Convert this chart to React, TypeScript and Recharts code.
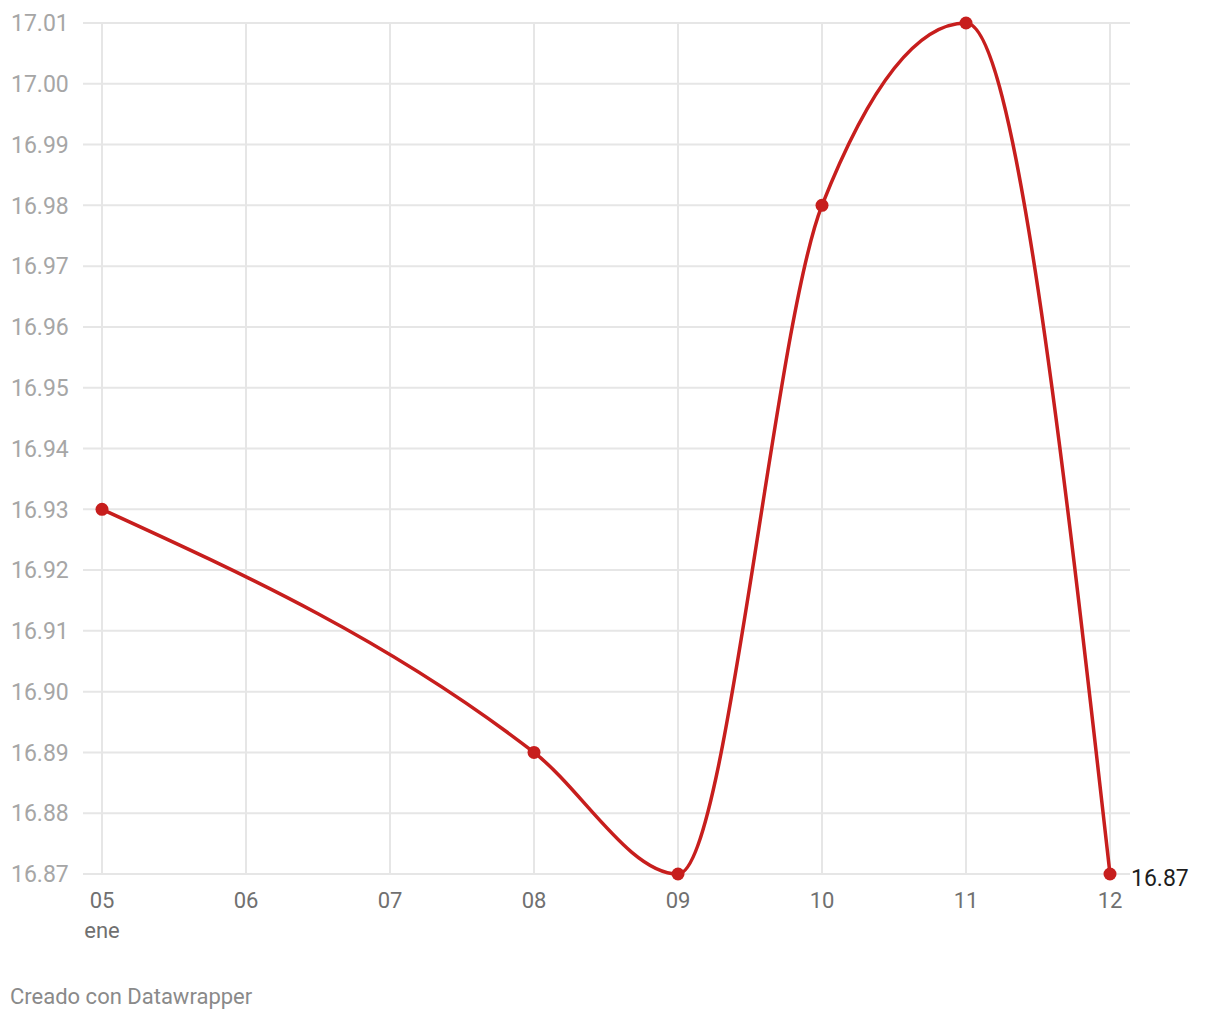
import { LineChart, Line, XAxis, YAxis, CartesianGrid, ReferenceLine } from 'recharts';

const days = [5, 8, 9, 10, 11, 12];
const values = [16.93, 16.89, 16.87, 16.98, 17.01, 16.87];
const xTicks = [5, 6, 7, 8, 9, 10, 11, 12];
const yTicks = [16.87, 16.88, 16.89, 16.9, 16.91, 16.92, 16.93, 16.94, 16.95, 16.96, 16.97, 16.98, 16.99, 17.0, 17.01];
const monthLabel = 'ene';

const data = days.map((d, i) => ({ day: d, value: values[i] }));

const RED = '#c71e1d';
const GRID = '#e6e6e6';

const YTick = (props: any) => {
  const { y, payload } = props;
  return (
    <text x={11} y={y} dy="0.36em" textAnchor="start" fontSize={23} fill="#a6a6a6" fontFamily="Roboto">
      {Number(payload.value).toFixed(2)}
    </text>
  );
};

const XTick = (props: any) => {
  const { x, y, payload } = props;
  const v = payload.value;
  return (
    <g>
      <text x={x} y={y + 18} dy="0.36em" textAnchor="middle" fontSize={22} fill="#707070" fontFamily="Roboto">
        {String(v).padStart(2, '0')}
      </text>
      {v === days[0] && (
        <text x={x} y={y + 48} dy="0.36em" textAnchor="middle" fontSize={22} fill="#707070" fontFamily="Roboto">
          {monthLabel}
        </text>
      )}
    </g>
  );
};

const EndLabel = (props: any) => {
  const { x, y, index, value } = props;
  if (index !== data.length - 1) return null;
  return (
    <text x={x + 21} y={y + 4} dy="0.36em" textAnchor="start" fontSize={23} fill="#1d1d1d" fontFamily="Roboto">
      {Number(value).toFixed(2)}
    </text>
  );
};

export default function App() {
  return (
    <div style={{ position: 'absolute', left: 0, top: 0, width: 1220, height: 1020, background: '#fff', fontFamily: 'Roboto' }}>
      <LineChart width={1220} height={1020} data={data} margin={{ top: 23, right: 90, bottom: 86, left: 0 }}>
        <CartesianGrid stroke={GRID} strokeWidth={2} vertical={false} />
        {xTicks.map((t) => (
          <ReferenceLine key={t} x={t} stroke={GRID} strokeWidth={2} />
        ))}
        <XAxis
          dataKey="day"
          type="number"
          domain={[5, 12]}
          ticks={xTicks}
          padding={{ left: 19, right: 20 }}
          axisLine={false}
          tickLine={false}
          height={60}
          tick={<XTick />}
          interval={0}
        />
        <YAxis
          type="number"
          domain={[16.87, 17.01]}
          ticks={yTicks}
          width={83}
          axisLine={false}
          tickLine={false}
          tick={<YTick />}
          interval={0}
          allowDecimals
        />
        <Line
          type="monotoneX"
          dataKey="value"
          stroke={RED}
          strokeWidth={3.5}
          dot={{ r: 6.5, fill: RED, stroke: 'none' }}
          activeDot={false}
          isAnimationActive={false}
          label={<EndLabel />}
        />
      </LineChart>
      <div style={{ position: 'absolute', left: 10, top: 984, fontSize: 22, color: '#8a8a8a', fontFamily: 'Roboto', lineHeight: '26px' }}>
        Creado con Datawrapper
      </div>
    </div>
  );
}
